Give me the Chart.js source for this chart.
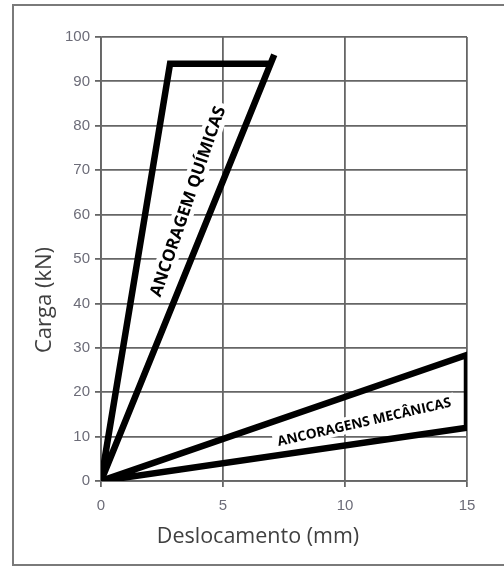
<!DOCTYPE html>
<html lang="pt">
<head>
    <meta charset="UTF-8">
    <title>Carga x Deslocamento - Ancoragens</title>
    <script src="https://cdn.jsdelivr.net/npm/chart.js"></script>
    <style>
        body { margin: 0; background: #fff; }
        #wrap { width: 504px; height: 569px; }
    </style>
</head>
<body>
<div id="wrap">
    <canvas id="cargaChart" width="504" height="569"></canvas>
</div>
<script>
    // valores (deslocamento mm, carga kN)
    const quimicasX = [7.1, 0, 2.83, 6.95];
    const quimicasY = [96, 0, 94, 94];
    const mecanicasX = [0, 15, 15, 0];
    const mecanicasY = [0, 12, 28.4, 0];
    const xTicks = [0, 5, 10, 15];
    const yTicks = [0, 10, 20, 30, 40, 50, 60, 70, 80, 90, 100];
    const rotulos = ['ANCORAGEM QUÍMICAS', 'ANCORAGENS MECÂNICAS'];

    const toPoints = (xs, ys) => xs.map((x, i) => ({ x: x, y: ys[i] }));

    // rótulos sobre as faixas (posição em unidades do gráfico)
    const labelSpots = [
        { text: rotulos[0], x: 3.54, y: 63, angle: -71, len: 200 },
        { text: rotulos[1], x: 10.78, y: 13.4, angle: -12.9, len: 178 }
    ];

    const decorPlugin = {
        id: 'decor',
        beforeDraw(chart) {
            const c = chart.ctx;
            c.save();
            c.fillStyle = '#fff';
            c.fillRect(0, 0, chart.width, chart.height);
            c.restore();
        },
        afterDatasetsDraw(chart) {
            const c = chart.ctx;
            const xs = chart.scales.x, ys = chart.scales.y;
            labelSpots.forEach(l => {
                c.save();
                c.translate(xs.getPixelForValue(l.x), ys.getPixelForValue(l.y));
                c.rotate(l.angle * Math.PI / 180);
                c.font = 'bold 14px "Open Sans"';
                const size = 14 * l.len / c.measureText(l.text).width;
                c.font = 'bold ' + size.toFixed(2) + 'px "Open Sans"';
                c.fillStyle = '#fff';
                c.fillRect(-l.len / 2 - 4, -size * 0.62, l.len + 8, size * 1.24);
                c.fillStyle = '#000';
                c.textAlign = 'center';
                c.textBaseline = 'middle';
                c.fillText(l.text, 0, 1);
                c.restore();
            });
        },
        afterDraw(chart) {
            const c = chart.ctx;
            c.save();
            c.fillStyle = '#404040';
            c.font = '21.5px "Open Sans"';
            c.textAlign = 'center';
            c.textBaseline = 'middle';
            c.fillText('Deslocamento (mm)', 258, 537);
            c.font = '22px "Open Sans"';
            c.translate(45, 300);
            c.rotate(-Math.PI / 2);
            c.fillText('Carga (kN)', 0, 0);
            c.restore();
            // moldura externa
            c.save();
            c.strokeStyle = '#7a7a7a';
            c.lineWidth = 2;
            c.strokeRect(13, 5, 500, 560);
            c.restore();
        }
    };

    const gridStyle = {
        color: '#666',
        lineWidth: 1.8,
        tickLength: 6,
        tickColor: '#666',
        tickWidth: 1.8
    };
    const tickFont = { family: '"Liberation Sans", Arial', size: 15 };

    const ctx = document.getElementById('cargaChart').getContext('2d');
    const cargaChart = new Chart(ctx, {
        type: 'scatter',
        data: {
            datasets: [{
                label: rotulos[0],
                data: toPoints(quimicasX, quimicasY),
                showLine: true,
                borderColor: '#000',
                borderWidth: 6.5,
                borderJoinStyle: 'miter',
                pointRadius: 0,
                tension: 0
            }, {
                label: rotulos[1],
                data: toPoints(mecanicasX, mecanicasY),
                showLine: true,
                borderColor: '#000',
                borderWidth: 6.5,
                borderJoinStyle: 'miter',
                pointRadius: 0,
                tension: 0
            }]
        },
        options: {
            responsive: false,
            animation: false,
            layout: { padding: { left: 0, right: 37, top: 37, bottom: 0 } },
            plugins: {
                legend: { display: false },
                tooltip: { enabled: false }
            },
            scales: {
                x: {
                    type: 'linear',
                    min: 0,
                    max: 15,
                    afterBuildTicks: s => { s.ticks = xTicks.map(v => ({ value: v })); },
                    afterFit: s => { s.height = 88; },
                    grid: gridStyle,
                    border: { color: '#666', width: 1.8 },
                    ticks: { color: '#6c6c78', font: tickFont, padding: 10, maxRotation: 0 }
                },
                y: {
                    type: 'linear',
                    min: 0,
                    max: 100,
                    afterBuildTicks: s => { s.ticks = yTicks.map(v => ({ value: v })); },
                    afterFit: s => { s.width = 101; },
                    grid: gridStyle,
                    border: { color: '#666', width: 1.8 },
                    ticks: { color: '#6c6c78', font: tickFont, padding: 5 }
                }
            }
        },
        plugins: [decorPlugin]
    });
</script>
</body>
</html>
